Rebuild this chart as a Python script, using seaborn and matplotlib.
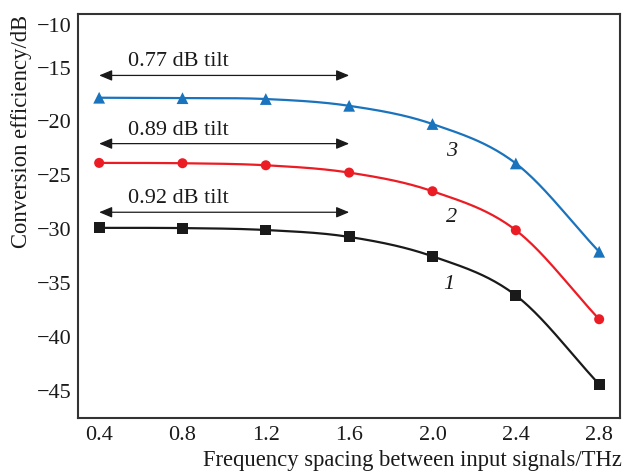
import numpy as np
import pandas as pd
import seaborn as sns
import matplotlib.pyplot as plt
from matplotlib import transforms

# Conversion efficiency vs. frequency spacing for three pump configurations
spacing = [0.4, 0.8, 1.2, 1.6, 2.0, 2.4, 2.8]
curve1 = [-29.88, -29.90, -30.08, -30.72, -32.52, -36.15, -44.40]
curve2 = [-23.85, -23.88, -24.07, -24.75, -26.48, -30.10, -38.36]
curve3 = [-17.80, -17.84, -17.92, -18.55, -20.24, -23.90, -32.10]

curve_names = ["1", "2", "3"]
tilt_labels = ["0.92 dB tilt", "0.89 dB tilt", "0.77 dB tilt"]
tilt_levels = [-28.43, -22.06, -15.73]
x_ticks = [0.4, 0.8, 1.2, 1.6, 2.0, 2.4, 2.8]
y_ticks = [-45, -40, -35, -30, -25, -20, -15, -10]

colors = ["#1a1a1a", "#ec1c24", "#1a73bd"]
markers = ["s", "o", "^"]
marker_sizes = [62, 52, 72]

sns.set_theme(style="white")
plt.rcParams["font.family"] = ["Liberation Serif", "DejaVu Serif"]


def smooth(x, y, n=40):
    """Cubic Hermite curve through the points (finite-difference slopes)."""
    x = np.asarray(x, float)
    y = np.asarray(y, float)
    m = np.gradient(y, x)
    xs, ys = [], []
    for i in range(len(x) - 1):
        h = x[i + 1] - x[i]
        t = np.linspace(0, 1, n, endpoint=False)
        h00 = 2 * t**3 - 3 * t**2 + 1
        h10 = t**3 - 2 * t**2 + t
        h01 = -2 * t**3 + 3 * t**2
        h11 = t**3 - t**2
        xs.append(x[i] + t * h)
        ys.append(h00 * y[i] + h10 * h * m[i] + h01 * y[i + 1] + h11 * h * m[i + 1])
    xs.append([x[-1]])
    ys.append([y[-1]])
    return np.concatenate(xs), np.concatenate(ys)


df = pd.DataFrame({
    "spacing": spacing * 3,
    "ce": curve1 + curve2 + curve3,
    "curve": sum([[n] * len(spacing) for n in curve_names], []),
})

fig = plt.figure(figsize=(6.25, 4.74), dpi=100)
ax = fig.add_axes([0.1253, 0.1188, 0.8667, 0.8523])

for name, col, mk, ms in zip(curve_names, colors, markers, marker_sizes):
    sub = df[df["curve"] == name]
    sx, sy = smooth(sub["spacing"], sub["ce"])
    sns.lineplot(x=sx, y=sy, ax=ax, color=col, lw=1.6, sort=False)
    sns.scatterplot(data=sub, x="spacing", y="ce", ax=ax, color=col, marker=mk,
                    s=ms, edgecolor="none", zorder=3)

# Tilt annotations with double-headed arrows over 0.4-1.6 THz
for lvl, txt in zip(tilt_levels, tilt_labels):
    ax.annotate("", xy=(0.4, lvl), xytext=(1.6, lvl),
                arrowprops=dict(arrowstyle="<|-|>,head_length=0.6,head_width=0.25",
                                color="#1a1a1a", lw=0.9,
                                mutation_scale=13, shrinkA=0, shrinkB=0))
    ax.text(0.78, lvl + 1.25, txt, ha="center", va="center", fontsize=16,
            color="#1a1a1a")

# Curve numbers
for name, (lx, ly) in zip(curve_names, [(2.08, -35.1), (2.09, -28.95), (2.09, -22.8)]):
    ax.text(lx, ly, name, ha="center", va="center", fontsize=16, style="italic",
            color="#1a1a1a")

ax.set_xlim(0.3, 2.9)
ax.set_ylim(-47.5, -10)
ax.set_xticks(x_ticks)
ax.set_xticklabels([f"{v:.1f}" for v in x_ticks])
ax.set_yticks(y_ticks)
ax.set_yticklabels([f"\u2212{abs(v)}" for v in y_ticks])

ax.tick_params(axis="both", direction="in", length=6, width=1.2, colors="#333333",
               labelsize=16, labelcolor="#1a1a1a", pad=5)
ax.tick_params(axis="x", pad=6)
for sp in ax.spines.values():
    sp.set_color("#333333")
    sp.set_linewidth(1.5)

# Top label sits just inside the frame
top_label = ax.get_yticklabels()[-1]
top_label.set_transform(top_label.get_transform() +
                        transforms.ScaledTranslation(0, -11 / 100, fig.dpi_scale_trans))

ax.set_xlabel("Frequency spacing between input signals/THz", fontsize=16.3,
              color="#1a1a1a", ha="right", va="center")
ax.xaxis.set_label_coords(1.003, -0.105)
ax.set_ylabel("Conversion efficiency/dB", fontsize=16.3, color="#1a1a1a")
ylab = ax.yaxis.label
ylab.set_rotation_mode("default")
ylab.set_ha("center")
ylab.set_va("top")
ax.yaxis.set_label_coords(-0.104, 0.997)

fig.savefig("out.png", dpi=100)
